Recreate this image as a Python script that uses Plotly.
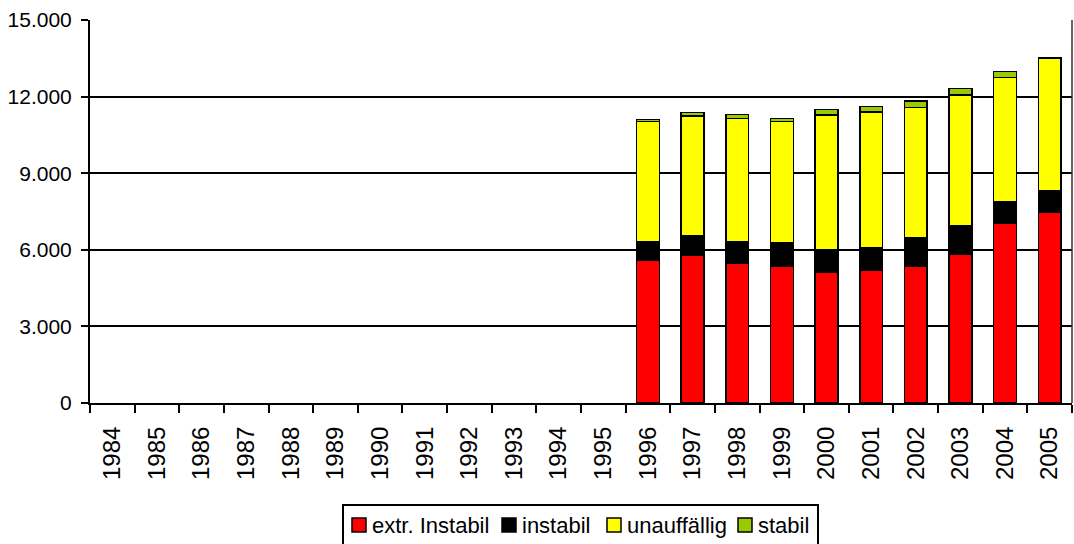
import plotly.graph_objects as go

years = [str(y) for y in range(1984, 2006)]
empty = [None] * 12

extr_instabil = empty + [5600, 5800, 5470, 5350, 5120, 5180, 5350, 5840, 7050, 7480]
instabil = empty + [720, 760, 850, 920, 890, 920, 1120, 1090, 850, 830]
unauffaellig = empty + [4700, 4680, 4830, 4750, 5270, 5290, 5100, 5140, 4850, 5180]
stabil = empty + [90, 130, 140, 130, 220, 220, 260, 250, 240, 20]

series = [
    ('extr. Instabil', extr_instabil, '#FF0000'),
    ('instabil', instabil, '#000000'),
    ('unauffällig', unauffaellig, '#FFFF00'),
    ('stabil', stabil, '#99CC00'),
]

FONT = 'Arial, Liberation Sans, sans-serif'

# pixel geometry of the plot area, used to place the hand-drawn legend
W, H = 1074, 544
L, R, T, B = 90, 2, 20, 141
PW, PH = W - L - R, H - T - B


def px_x(px):
    return (px - L) / PW


def px_y(py):
    return (H - B - py) / PH


fig = go.Figure()
for name, vals, color in series:
    fig.add_trace(go.Bar(
        name=name,
        x=years,
        y=vals,
        marker=dict(color=color, line=dict(color='#000000', width=1.5)),
    ))

fig.update_layout(
    width=W,
    height=H,
    barmode='stack',
    bargap=0.49,
    plot_bgcolor='white',
    paper_bgcolor='white',
    margin=dict(l=L, r=R, t=T, b=B),
    font=dict(family=FONT, color='#000000'),
    showlegend=False,
    xaxis=dict(
        type='category',
        tickangle=-90,
        tickfont=dict(size=24),
        ticklabelstandoff=12,
        automargin=False,
        showline=True,
        linecolor='#000000',
        linewidth=2,
        ticks='outside',
        tickson='boundaries',
        ticklen=8,
        tickwidth=2,
        tickcolor='#000000',
        showgrid=False,
    ),
    yaxis=dict(
        range=[0, 15000],
        tickvals=[0, 3000, 6000, 9000, 12000, 15000],
        ticktext=['0', '3.000', '6.000', '9.000', '12.000', '15.000'],
        tickfont=dict(size=21),
        ticklabelstandoff=5,
        automargin=False,
        showline=True,
        linecolor='#000000',
        linewidth=2,
        ticks='outside',
        ticklen=7,
        tickwidth=2,
        tickcolor='#000000',
        showgrid=True,
        gridcolor='#000000',
        gridwidth=1.5,
        zeroline=False,
    ),
)

# thin right border of the plot area
fig.add_shape(type='line', xref='paper', yref='paper', x0=1, x1=1, y0=0, y1=1,
              line=dict(color='#333333', width=1.5))

# Excel-style compact legend box below the chart
fig.add_shape(type='rect', xref='paper', yref='paper',
              x0=px_x(343), x1=px_x(818), y0=px_y(505), y1=px_y(552),
              line=dict(color='#000000', width=2), fillcolor='white')
legend_x = [352, 502, 607, 738]
for (name, _, color), lx in zip(series, legend_x):
    fig.add_shape(type='rect', xref='paper', yref='paper',
                  x0=px_x(lx), x1=px_x(lx + 14), y0=px_y(518), y1=px_y(532),
                  line=dict(color='#000000', width=1.5), fillcolor=color)
    fig.add_annotation(text=name, xref='paper', yref='paper',
                       x=px_x(lx + 18), y=px_y(525), xanchor='left', yanchor='middle',
                       showarrow=False, font=dict(size=22))

fig.write_html("out.html", config={'displayModeBar': False},
               post_script="document.body.style.margin='0';")
